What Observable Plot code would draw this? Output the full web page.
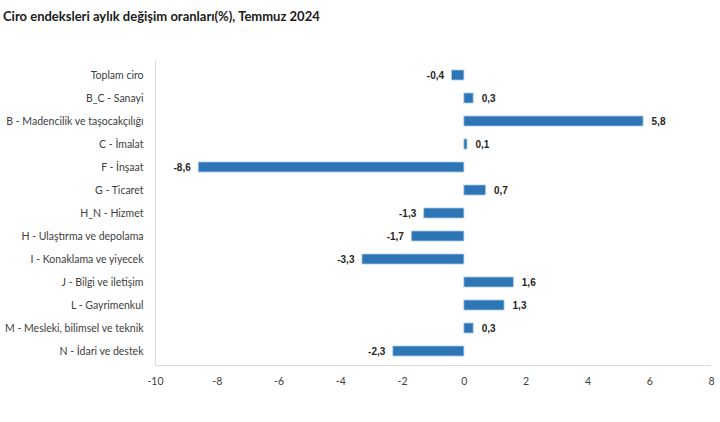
<!DOCTYPE html>
<html>
<head>
<meta charset="utf-8">
<script src="https://cdn.jsdelivr.net/npm/d3@7"></script>
<script src="https://cdn.jsdelivr.net/npm/@observablehq/plot@0.6"></script>
<style>
  html, body { margin: 0; padding: 0; background: #fff; }
  body { width: 720px; height: 422px; overflow: hidden; font-family: Lato, "Open Sans", sans-serif; }
  #title { height: 30px; box-sizing: border-box; padding: 8px 0 0 3px; font-size: 13px; font-weight: bold; color: #1a1a1a; }
  #chart svg { display: block; }
</style>
</head>
<body>
<div id="title">Ciro endeksleri aylık değişim oranları(%), Temmuz 2024</div>
<div id="chart"></div>
<script>
const categories = [
  "Toplam ciro",
  "B_C - Sanayi",
  "B - Madencilik ve taşocakçılığı",
  "C - İmalat",
  "F - İnşaat",
  "G - Ticaret",
  "H_N - Hizmet",
  "H - Ulaştırma ve depolama",
  "I - Konaklama ve yiyecek",
  "J - Bilgi ve iletişim",
  "L - Gayrimenkul",
  "M - Mesleki, bilimsel ve teknik",
  "N - İdari ve destek"
];
const values = [-0.4, 0.3, 5.8, 0.1, -8.6, 0.7, -1.3, -1.7, -3.3, 1.6, 1.3, 0.3, -2.3];
const xTicks = [-10, -8, -6, -4, -2, 0, 2, 4, 6, 8];

const data = categories.map((c, i) => ({category: c, value: values[i]}));
const fmt = v => d3.format(".1f")(v).replace(".", ",").replace("−", "-");

const chart = Plot.plot({
  width: 720,
  height: 392,
  marginTop: 30,
  marginBottom: 57,
  marginLeft: 155,
  marginRight: 9,
  style: {fontFamily: "Lato, 'Open Sans', sans-serif", fontSize: "10.5px", color: "#404040"},
  x: {domain: [-10, 8], ticks: xTicks, tickSize: 0, tickPadding: 12, label: null, tickFormat: d => String(d)},
  y: {domain: categories, paddingInner: 0.57, paddingOuter: 0.285, tickSize: 0, tickPadding: 12, label: null},
  marks: [
    Plot.ruleX([-10], {stroke: "#d9d9d9", strokeWidth: 1}),
    Plot.barX(data, {x: "value", y: "category", fill: "#2e75b6", stroke: "#a9c9e8", strokeWidth: 0.8}),
    Plot.text(data.filter(d => d.value >= 0), {x: "value", y: "category", text: d => fmt(d.value), textAnchor: "start", dx: 8, fontWeight: "bold", fontSize: 10, fontFamily: "'Liberation Sans', Arial, sans-serif", fill: "#262626"}),
    Plot.text(data.filter(d => d.value < 0), {x: "value", y: "category", text: d => fmt(d.value), textAnchor: "end", dx: -8, fontWeight: "bold", fontSize: 10, fontFamily: "'Liberation Sans', Arial, sans-serif", fill: "#262626"})
  ]
});
document.getElementById("chart").appendChild(chart);

// bottom frame line of plot area
const svg = d3.select(chart);
svg.append("line")
  .attr("x1", 155).attr("x2", 711)
  .attr("y1", 392 - 57 + 0.5).attr("y2", 392 - 57 + 0.5)
  .attr("stroke", "#d9d9d9");
svg.selectAll("[aria-label='x-axis tick label'] text, [aria-label='y-axis tick label'] text").attr("fill", "#404040");
</script>
</body>
</html>
